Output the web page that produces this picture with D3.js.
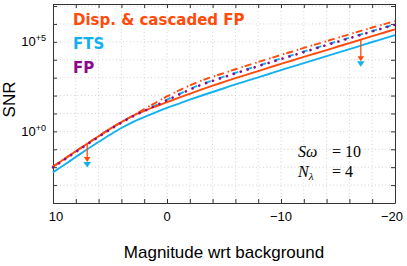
<!DOCTYPE html>
<html><head><meta charset="utf-8">
<script src="https://cdn.jsdelivr.net/npm/d3@7"></script>
<style>body{margin:0;background:#fff}svg{display:block}</style>
</head><body>
<script>
// magnitudes (wrt background)
const mags = [10,9,8,7,6,5,4,3,2,1,0,-1,-2,-3,-4,-5,-6,-7,-8,-9,-10,-11,-12,-13,-14,-15,-16,-17,-18,-19,-20];
// log10(SNR)
const dispSolid = [-1.97,-1.54,-1.11,-0.69,-0.27,0.14,0.52,0.86,1.14,1.39,1.63,1.87,2.10,2.33,2.55,2.76,2.97,3.17,3.37,3.57,3.77,3.96,4.16,4.35,4.54,4.74,4.93,5.12,5.32,5.51,5.70];
const ftsSolid  = [-2.29,-1.86,-1.43,-1.00,-0.59,-0.19,0.19,0.52,0.80,1.06,1.31,1.54,1.77,1.99,2.20,2.41,2.62,2.82,3.02,3.22,3.42,3.62,3.81,4.01,4.20,4.40,4.59,4.79,4.99,5.18,5.38];
const dispDash  = [-1.97,-1.54,-1.11,-0.69,-0.27,0.14,0.52,0.88,1.25,1.60,1.95,2.27,2.56,2.83,3.05,3.26,3.47,3.67,3.87,4.07,4.27,4.46,4.66,4.85,5.04,5.23,5.42,5.61,5.80,5.98,6.16];
const ftsDash   = [-1.97,-1.54,-1.11,-0.69,-0.27,0.14,0.52,0.86,1.15,1.45,1.77,2.07,2.36,2.63,2.85,3.06,3.27,3.47,3.67,3.87,4.07,4.26,4.46,4.65,4.85,5.04,5.23,5.42,5.61,5.80,5.98];
const fpDot     = [-2.01,-1.58,-1.15,-0.73,-0.31,0.10,0.48,0.84,1.14,1.44,1.74,2.04,2.33,2.60,2.82,3.03,3.24,3.44,3.64,3.84,4.04,4.23,4.43,4.62,4.82,5.01,5.20,5.39,5.58,5.77,5.95];
// arrows: magnitude, start and end (log10 SNR)
const arrowMag = [7,-17];
const arrowFrom = [-0.69,5.12];
const arrowTo = [-2.02,3.61];
// ticks
const xTicks = [10,8,6,4,2,0,-2,-4,-6,-8,-10,-12,-14,-16,-18,-20];
const xLabels = [10,0,-10,-20];
const yDecades = [-4,-3,-2,-1,0,1,2,3,4,5,6,7];
const yLabels = [0,5];
const legend = [{t:"Disp. & cascaded FP",c:"#ff4a0a"},{t:"FTS",c:"#12b0ee"},{t:"FP",c:"#8a0a8e"}];

const W=407,H=266, L=53,R=395,T=4,B=203;
const ORANGE="#ff4a0a", BLUE="#12b0ee", PURPLE="#8a0a8e";
const svg=d3.select("body").append("svg").attr("width",W).attr("height",H);
const x=d3.scaleLinear().domain([10,-20]).range([L,R]);
const y=d3.scaleLog().domain([1e-4,1.3e7]).range([B,T]);

// grid
const g=svg.append("g");
g.selectAll(".gx").data(xTicks.slice(1,-1)).enter().append("line")
 .attr("x1",d=>x(d)).attr("x2",d=>x(d)).attr("y1",T).attr("y2",B)
 .attr("stroke","#c8c8c8").attr("stroke-width",0.8).attr("stroke-dasharray","1,2.5");
g.selectAll(".gy").data(yDecades.filter(d=>d>-4)).enter().append("line")
 .attr("x1",L).attr("x2",R).attr("y1",d=>y(10**d)).attr("y2",d=>y(10**d))
 .attr("stroke","#c8c8c8").attr("stroke-width",0.8).attr("stroke-dasharray","1,2.5");

// axes (inward ticks)
const ax=svg.append("g");
ax.append("g").attr("transform",`translate(0,${B})`).call(d3.axisBottom(x).tickValues(xTicks).tickSizeInner(-4).tickSizeOuter(0).tickFormat(""));
ax.append("g").attr("transform",`translate(0,${T})`).call(d3.axisTop(x).tickValues(xTicks).tickSizeInner(-4).tickSizeOuter(0).tickFormat(""));
ax.append("g").attr("transform",`translate(${L},0)`).call(d3.axisLeft(y).tickValues(yDecades.map(d=>10**d)).tickSizeInner(-4).tickSizeOuter(0).tickFormat(""));
ax.append("g").attr("transform",`translate(${R},0)`).call(d3.axisRight(y).tickValues(yDecades.map(d=>10**d)).tickSizeInner(-4).tickSizeOuter(0).tickFormat(""));
ax.selectAll("path,line").attr("stroke","#333").attr("stroke-width",1);

// tick labels
svg.selectAll(".xl").data(xLabels).enter().append("text")
 .attr("x",d=>x(d)+(d===10?3:(d===-20?-3:0))).attr("y",221).attr("text-anchor","middle")
 .attr("font-family","Liberation Sans, Arial, sans-serif").attr("font-size",13).attr("fill","#000")
 .text(d=>d<0?"\u2212"+Math.abs(d):String(d));
const yl=svg.selectAll(".yl").data(yLabels).enter().append("text")
 .attr("x",46).attr("y",d=>y(10**d)+4.5).attr("text-anchor","end")
 .attr("font-family","Liberation Sans, Arial, sans-serif").attr("font-size",13).attr("fill","#000");
yl.append("tspan").text("10");
yl.append("tspan").attr("dy",-5).attr("font-size",9).text(d=>"+"+d);

// axis titles
svg.append("text").attr("x",(L+R)/2).attr("y",258).attr("text-anchor","middle")
 .attr("font-family","Liberation Sans, Arial, sans-serif").attr("font-size",17).text("Magnitude wrt background");
svg.append("text").attr("transform",`translate(15,${(T+B)/2-4}) rotate(-90)`).attr("text-anchor","middle")
 .attr("font-family","Liberation Sans, Arial, sans-serif").attr("font-size",17).text("SNR");

// lines
const line=(vals)=>d3.line().curve(d3.curveMonotoneX).x((d,i)=>x(mags[i])).y(d=>y(10**d))(vals);
const lg=svg.append("g").attr("fill","none");
lg.append("path").attr("d",line(ftsSolid)).attr("stroke",BLUE).attr("stroke-width",1.9);
lg.append("path").attr("d",line(ftsDash)).attr("stroke",BLUE).attr("stroke-width",1.9).attr("stroke-dasharray","6,8.5");
lg.append("path").attr("d",line(dispSolid)).attr("stroke",ORANGE).attr("stroke-width",1.9);
lg.append("path").attr("d",line(dispDash)).attr("stroke",ORANGE).attr("stroke-width",1.9).attr("stroke-dasharray","7,4,1.5,2");
lg.append("path").attr("d",line(fpDot)).attr("stroke",PURPLE).attr("stroke-width",2.6).attr("stroke-linecap","round").attr("stroke-dasharray","0.1,7.2");

// arrows
const ar=svg.append("g");
arrowMag.forEach((m,i)=>{
  const xs=x(m), y0=y(10**arrowFrom[i]), y1=y(10**arrowTo[i]);
  ar.append("line").attr("x1",xs).attr("x2",xs).attr("y1",y0).attr("y2",y1-9).attr("stroke",ORANGE).attr("stroke-width",1.3);
  ar.append("path").attr("d",`M${xs-3.8},${y1-5.5}L${xs+3.8},${y1-5.5}L${xs},${y1}Z`).attr("fill",BLUE);
  ar.append("path").attr("d",`M${xs-3.3},${y1-10.5}L${xs+3.3},${y1-10.5}L${xs},${y1-5.5}Z`).attr("fill",ORANGE);
});

// legend
svg.selectAll(".lgd").data(legend).enter().append("text")
 .attr("x",73).attr("y",(d,i)=>25+i*24).attr("fill",d=>d.c)
 .attr("font-family","DejaVu Sans, sans-serif").attr("font-weight","bold").attr("font-size",15)
 .text(d=>d.t);

// annotation
const ann=svg.append("g").attr("font-family","Liberation Serif, DejaVu Serif, serif").attr("font-size",16);
const a1=ann.append("text").attr("x",298).attr("y",157);
a1.append("tspan").attr("font-style","italic").text("S\u03C9");
a1.append("tspan").attr("x",332).text("= 10");
const a2=ann.append("text").attr("x",298).attr("y",177);
a2.append("tspan").attr("font-style","italic").text("N");
a2.append("tspan").attr("font-style","italic").attr("font-size",11).attr("dy",3).text("\u03BB");
a2.append("tspan").attr("x",332).attr("dy",-3).text("= 4");
</script>
</body></html>
